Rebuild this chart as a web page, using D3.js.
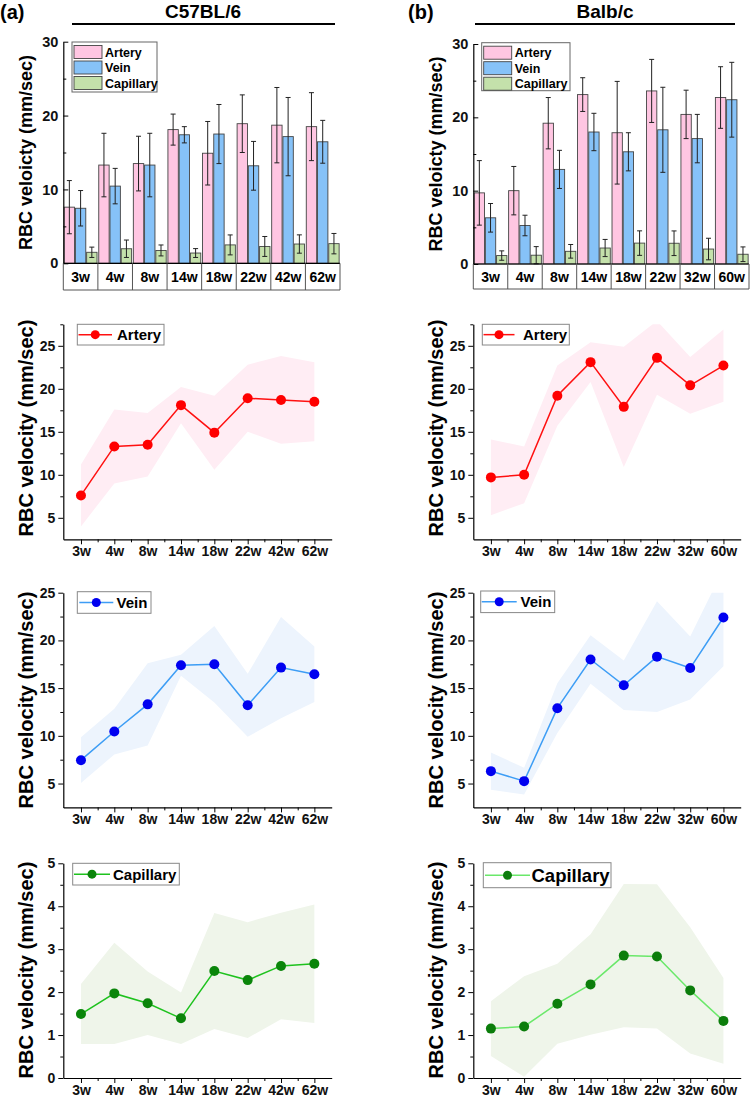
<!DOCTYPE html>
<html><head><meta charset="utf-8">
<script src="https://cdn.jsdelivr.net/npm/d3@7"></script>
<style>
body{margin:0;background:#fff;}
svg{display:block;font-family:"Liberation Sans",Arial,sans-serif;font-weight:bold;}
</style></head>
<body><svg id="c" width="750" height="1097"></svg>
<script>
// ---------- data ----------
const weeksC57 = ["3w","4w","8w","14w","18w","22w","42w","62w"];
const weeksBalb = ["3w","4w","8w","14w","18w","22w","32w","60w"];
const seriesNames = ["Artery","Vein","Capillary"];

const c57ArteryMean = [7.6, 13.3, 13.5, 18.1, 14.9, 18.9, 18.7, 18.5];
const c57ArterySD   = [3.6, 4.3, 3.7, 2.1, 4.3, 3.9, 5.1, 4.6];
const c57VeinMean   = [7.45, 10.45, 13.3, 17.4, 17.5, 13.2, 17.15, 16.45];
const c57VeinSD     = [2.4, 2.4, 4.3, 1.1, 4.0, 3.3, 5.3, 2.9];
const c57CapMean    = [1.49, 1.97, 1.74, 1.39, 2.49, 2.28, 2.61, 2.66];
const c57CapSD      = [0.7, 1.18, 0.74, 0.6, 1.35, 1.35, 1.24, 1.38];

const balbArteryMean = [9.7, 10.0, 19.2, 23.1, 17.9, 23.6, 20.4, 22.7];
const balbArterySD   = [4.4, 3.3, 3.5, 2.3, 7.0, 4.3, 3.3, 4.2];
const balbVeinMean   = [6.3, 5.25, 12.9, 18.0, 15.3, 18.3, 17.1, 22.4];
const balbVeinSD     = [1.95, 1.4, 2.6, 2.55, 2.6, 5.8, 3.3, 5.1];
const balbCapMean    = [1.15, 1.2, 1.73, 2.18, 2.85, 2.83, 2.04, 1.33];
const balbCapSD      = [0.64, 1.17, 0.93, 1.17, 1.67, 1.68, 1.47, 1.0];

const barTicks = [0, 10, 20, 30];
const arteryTicks = [5, 10, 15, 20, 25];
const veinTicks = [5, 10, 15, 20, 25];
const capTicks = [0, 1, 2, 3, 4, 5];

// ---------- drawing ----------
const svg = d3.select("#c");
svg.append("rect").attr("width",750).attr("height",1097).attr("fill","#fff");
const barFill = ["#ffc6e2","#86c2f8","#c4e1ab"];
const intFmt = d3.format("d");

function header(label, title, lx, tx, lineX0, lineX1){
  svg.append("text").attr("x",lx).attr("y",19).attr("font-size",20).text(label);
  svg.append("text").attr("x",tx).attr("y",17.5).attr("font-size",19).attr("text-anchor","middle").text(title);
  svg.append("line").attr("x1",lineX0).attr("x2",lineX1).attr("y1",24).attr("y2",24)
    .attr("stroke","#000").attr("stroke-width",2);
}

function drawBar(cfg){
  const g = svg.append("g");
  const x = d3.scaleBand().domain(cfg.weeks).range([cfg.x0, cfg.x1]);
  const y = d3.scaleLinear().domain([0,30]).range([cfg.y0, cfg.yTop]);
  const bw = x.bandwidth();
  cfg.series.forEach((s,k)=>{
    cfg.weeks.forEach((w,i)=>{
      const bx = x(w) + bw*(0.025 + k*0.325), wd = bw*0.3;
      g.append("rect").attr("x",bx).attr("y",y(s.mean[i])).attr("width",wd)
        .attr("height",y(0)-y(s.mean[i])).attr("fill",barFill[k]).attr("stroke","#444").attr("stroke-width",0.9);
      const cx = bx + wd/2;
      const hi = y(s.mean[i]+s.sd[i]), lo = y(Math.max(0,s.mean[i]-s.sd[i]));
      g.append("line").attr("x1",cx).attr("x2",cx).attr("y1",hi).attr("y2",lo).attr("stroke","#222").attr("stroke-width",1);
      [hi,lo].forEach(v=>g.append("line").attr("x1",cx-2.5).attr("x2",cx+2.5).attr("y1",v).attr("y2",v).attr("stroke","#222").attr("stroke-width",1));
    });
  });
  // y axis
  const ya = g.append("g").attr("transform",`translate(${cfg.x0},0)`)
    .call(d3.axisLeft(y).tickValues(barTicks).tickFormat(intFmt).tickSize(-5).tickPadding(5).tickSizeOuter(0));
  ya.selectAll("text").attr("font-size",14.5).attr("font-family","inherit").attr("font-weight","bold").attr("fill","#111");
  ya.select(".domain").attr("stroke-width",1.2);
  const ym = g.append("g").attr("transform",`translate(${cfg.x0},0)`)
    .call(d3.axisLeft(y).tickValues([5,15,25]).tickSize(-3).tickFormat("").tickSizeOuter(0));
  ym.select(".domain").remove();
  // category boxes
  g.append("line").attr("x1",cfg.x0).attr("x2",cfg.x1).attr("y1",cfg.y0).attr("y2",cfg.y0).attr("stroke","#000").attr("stroke-width",1.2);
  g.append("line").attr("x1",cfg.x0).attr("x2",cfg.x1).attr("y1",cfg.boxBottom).attr("y2",cfg.boxBottom).attr("stroke","#555").attr("stroke-width",1);
  const edges = cfg.weeks.map(w=>x(w)).concat([cfg.x1]);
  edges.forEach(e=>g.append("line").attr("x1",e).attr("x2",e).attr("y1",cfg.y0).attr("y2",cfg.boxBottom).attr("stroke","#555").attr("stroke-width",1));
  cfg.weeks.forEach(w=>g.append("text").attr("x",x(w)+bw/2).attr("y",(cfg.y0+cfg.boxBottom)/2+5)
    .attr("text-anchor","middle").attr("font-size",14).text(w));
  // y title
  g.append("text").attr("transform",`translate(${cfg.titleX},${(cfg.y0+cfg.yTop)/2}) rotate(-90)`)
    .attr("text-anchor","middle").attr("dominant-baseline","central").attr("font-size",18).text("RBC veloicty (mm/sec)");
  // legend
  const L = cfg.legend;
  g.append("rect").attr("x",L.x).attr("y",L.y).attr("width",L.w).attr("height",L.h).attr("fill","#fff").attr("stroke","#666").attr("stroke-width",1);
  seriesNames.forEach((n,k)=>{
    const ry = L.y + 3.5 + k*15.5;
    g.append("rect").attr("x",L.x+2).attr("y",ry).attr("width",28).attr("height",13)
      .attr("fill",barFill[k]).attr("stroke","#444").attr("stroke-width",0.9);
    g.append("text").attr("x",L.x+33).attr("y",ry+11).attr("font-size",12.5).text(n);
  });
}

let clipId = 0;
function drawLine(cfg){
  const g = svg.append("g");
  const x = d3.scaleLinear().domain([-0.53, 7.52]).range([cfg.x0, cfg.x1]);
  const y = d3.scaleLinear().domain(cfg.domain).range([cfg.yBottom, cfg.yTop]);
  const id = "clip"+(clipId++);
  svg.append("clipPath").attr("id",id).append("rect")
    .attr("x",cfg.x0).attr("y",cfg.yTop).attr("width",cfg.x1-cfg.x0).attr("height",cfg.yBottom-cfg.yTop);
  const idx = cfg.weeks.map((w,i)=>i);
  const area = d3.area().x(i=>x(i)).y0(i=>y(cfg.mean[i]-cfg.sd[i])).y1(i=>y(cfg.mean[i]+cfg.sd[i]));
  g.append("path").attr("d",area(idx)).attr("fill",cfg.band).attr("clip-path",`url(#${id})`);
  const line = d3.line().x(i=>x(i)).y(i=>y(cfg.mean[i]));
  g.append("path").attr("d",line(idx)).attr("fill","none").attr("stroke",cfg.lineColor).attr("stroke-width",1.5);
  g.selectAll(null).data(idx).enter().append("circle").attr("cx",i=>x(i)).attr("cy",i=>y(cfg.mean[i]))
    .attr("r",5).attr("fill",cfg.dotColor);
  // axes
  const xa = g.append("g").attr("transform",`translate(0,${cfg.yBottom})`)
    .call(d3.axisBottom(x).tickValues(idx).tickFormat(i=>cfg.weeks[i]).tickSize(5).tickPadding(2).tickSizeOuter(0));
  xa.selectAll("text").attr("font-size",14).attr("font-family","inherit").attr("font-weight","bold").attr("fill","#111");
  xa.select(".domain").attr("stroke-width",1.2);
  const xm = g.append("g").attr("transform",`translate(0,${cfg.yBottom})`)
    .call(d3.axisBottom(x).tickValues(idx.slice(0,-1).map(i=>i+0.5)).tickSize(3).tickFormat("").tickSizeOuter(0));
  xm.select(".domain").remove();
  const ya = g.append("g").attr("transform",`translate(${cfg.x0},0)`)
    .call(d3.axisLeft(y).tickValues(cfg.ticks).tickFormat(intFmt).tickSize(5).tickPadding(3).tickSizeOuter(0));
  ya.selectAll("text").attr("font-size",14).attr("font-family","inherit").attr("font-weight","bold").attr("fill","#111");
  ya.select(".domain").attr("stroke-width",1.2);
  const ym = g.append("g").attr("transform",`translate(${cfg.x0},0)`)
    .call(d3.axisLeft(y).tickValues(cfg.minor).tickSize(3).tickFormat("").tickSizeOuter(0));
  ym.select(".domain").remove();
  // y title
  g.append("text").attr("transform",`translate(${cfg.titleX},${cfg.titleY}) rotate(-90)`)
    .attr("text-anchor","middle").attr("dominant-baseline","central").attr("font-size",20).text("RBC velocity (mm/sec)");
  // legend
  const L = cfg.legend;
  g.append("rect").attr("x",L.x).attr("y",L.y).attr("width",L.w).attr("height",L.h).attr("fill","#fff").attr("stroke","#888").attr("stroke-width",1);
  const cy = L.y + L.h/2;
  g.append("line").attr("x1",L.l0).attr("x2",L.l1).attr("y1",cy).attr("y2",cy).attr("stroke",cfg.lineColor).attr("stroke-width",1.5);
  g.append("circle").attr("cx",(L.l0+L.l1)/2).attr("cy",cy).attr("r",4.5).attr("fill",cfg.dotColor);
  g.append("text").attr("x",L.tx).attr("y",cy).attr("dominant-baseline","central").attr("font-size",L.fs).text(cfg.name);
}

header("(a)","C57BL/6",0,203,72,335);
header("(b)","Balb/c",408,605,475,735);

drawBar({weeks:weeksC57,x0:63.3,x1:340,y0:263.3,yTop:41.7,boxBottom:290,titleX:26,
  series:[{mean:c57ArteryMean,sd:c57ArterySD},{mean:c57VeinMean,sd:c57VeinSD},{mean:c57CapMean,sd:c57CapSD}],
  legend:{x:72,y:42,w:85,h:50}});
drawBar({weeks:weeksBalb,x0:473.3,x1:749,y0:264,yTop:44,boxBottom:289,titleX:435.5,
  series:[{mean:balbArteryMean,sd:balbArterySD},{mean:balbVeinMean,sd:balbVeinSD},{mean:balbCapMean,sd:balbCapSD}],
  legend:{x:481.7,y:42.7,w:88.3,h:48}});

const artY = {domain:[2.5,27.5],yTop:324.3,yBottom:539.3,ticks:arteryTicks,minor:[7.5,12.5,17.5,22.5,27.5],titleY:428};
const veinY = {domain:[2.5,25],yTop:592.7,yBottom:807.4,ticks:veinTicks,minor:[7.5,12.5,17.5,22.5],titleY:700};
const capY = {domain:[0,5],yTop:863.3,yBottom:1078,ticks:capTicks,minor:[0.5,1.5,2.5,3.5,4.5],titleY:970};
const left = {x0:63.3,x1:331.7,titleX:26};
const right = {x0:473.3,x1:740.7,titleX:435.5};

drawLine(Object.assign({},artY,left,{weeks:weeksC57,mean:c57ArteryMean,sd:c57ArterySD,name:"Artery",
  band:"#ffedf4",lineColor:"#ff1010",dotColor:"#ff0000",legend:{x:77.3,y:324.3,w:86.7,h:20.7,l0:78.5,l1:112,tx:117,fs:15}}));
drawLine(Object.assign({},artY,right,{weeks:weeksBalb,mean:balbArteryMean,sd:balbArterySD,name:"Artery",
  band:"#ffedf4",lineColor:"#ff1010",dotColor:"#ff0000",legend:{x:482.3,y:324.3,w:87,h:20.7,l0:483.5,l1:514.5,tx:523,fs:15}}));
drawLine(Object.assign({},veinY,left,{weeks:weeksC57,mean:c57VeinMean,sd:c57VeinSD,name:"Vein",
  band:"#edf4fd",lineColor:"#3d9df5",dotColor:"#0000f0",legend:{x:77.3,y:591.7,w:73.7,h:21.6,l0:79.3,l1:113.3,tx:116.5,fs:15}}));
drawLine(Object.assign({},veinY,right,{weeks:weeksBalb,mean:balbVeinMean,sd:balbVeinSD,name:"Vein",
  band:"#edf4fd",lineColor:"#3d9df5",dotColor:"#0000f0",legend:{x:480.7,y:591,w:74,h:21.6,l0:481.7,l1:516.7,tx:520.5,fs:15}}));
drawLine(Object.assign({},capY,left,{weeks:weeksC57,mean:c57CapMean,sd:c57CapSD,name:"Capillary",
  band:"#eff5ea",lineColor:"#1ec21e",dotColor:"#0a850a",legend:{x:72.7,y:863.3,w:106.6,h:21.7,l0:74,l1:110,tx:113,fs:15}}));
drawLine(Object.assign({},capY,right,{weeks:weeksBalb,mean:balbCapMean,sd:balbCapSD,name:"Capillary",
  band:"#eff5ea",lineColor:"#6ae86a",dotColor:"#0b7d0b",legend:{x:483.3,y:862.7,w:127.7,h:25,l0:485,l1:530,tx:531.5,fs:18.5}}));
</script></body></html>
